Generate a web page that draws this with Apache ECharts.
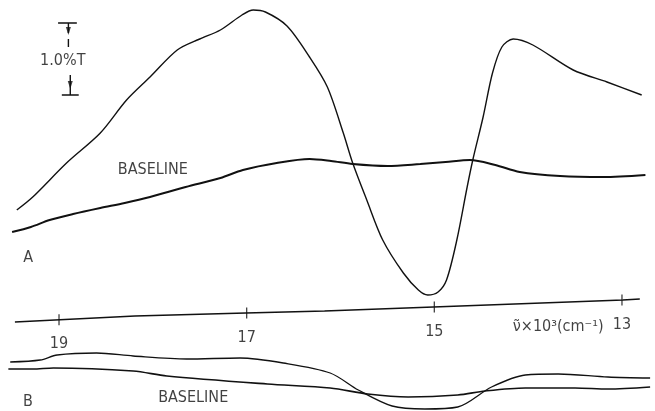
<!DOCTYPE html>
<html><head><meta charset="utf-8">
<script src="https://cdn.jsdelivr.net/npm/echarts@6/dist/echarts.min.js"></script>
<style>html,body{margin:0;padding:0;background:#fff}#c{width:655px;height:411px}</style>
</head><body><div id="c"></div>
<script>
// wavenumber (x10^3 cm^-1) vs. transmittance (arbitrary units, 72 units = 1.0 %T)
const spectrumA = [[19.45,201],[19.28,214],[18.92,248],[18.56,278],[18.28,311],[18.03,334],[17.74,361],[17.50,372],[17.28,381],[17.05,396],[16.93,401],[16.80,399],[16.57,385],[16.33,354],[16.14,324],[15.97,278],[15.87,248],[15.72,211],[15.55,171],[15.33,138],[15.17,121],[15.07,116],[14.96,119],[14.87,131],[14.76,171],[14.65,224],[14.59,251],[14.48,294],[14.38,338],[14.28,364],[14.16,372],[13.95,366],[13.52,341],[13.16,329],[12.79,316]];
const baselineA = [[19.50,179],[19.30,184],[19.10,191],[18.85,197],[18.56,203],[18.30,208],[18.03,214],[17.65,224],[17.28,233],[17.04,241],[16.68,248],[16.33,252],[16.10,250],[15.87,247],[15.50,245],[15.15,247],[14.88,249],[14.62,251],[14.35,246],[14.09,239],[13.66,235],[13.20,234],[12.75,236]];
const spectrumB = [[19.52,49],[19.20,51],[19.02,56],[18.60,58],[18.21,55],[17.64,52],[17.07,53],[16.61,48],[16.11,38],[15.81,21],[15.45,5],[15.10,2],[14.75,4],[14.39,24],[14.03,36],[13.68,37],[13.15,34],[12.70,33]];
const baselineB = [[19.54,42],[19.28,42],[19.06,43],[18.21,40],[17.85,35],[16.78,27],[16.11,23],[15.71,17],[15.28,14],[14.75,16],[14.46,20],[14.03,23],[13.50,23],[13.15,22],[12.70,24]];
const axisLine = [[19.47,89],[18.19,95],[17.01,98],[16.17,100],[15.01,104],[12.99,111],[12.81,112]];
const tickValues = [19,17,15,13];
const tickLabels = ['19','17','15','13'];
const scaleBar = [[19.01,388],[18.81,388],null,[18.90,388],[18.90,378],null,[18.90,372],[18.90,364],null,[18.88,336],[18.88,316],null,[18.97,316],[18.79,316]];
const scaleArrows = [[18.90,380],[18.88,326]];
const annotations = [
  {pos:[19.33,153], text:'A'},
  {pos:[19.33,9], text:'B'},
  {pos:[18.00,241], text:'BASELINE'},
  {pos:[17.57,13], text:'BASELINE'},
  {pos:[18.96,350], text:'1.0%T'},
  {pos:[13.68,84], text:'ν̃×10³(cm⁻¹)'}
];

function axisYAt(v){
  for (let i=0;i<axisLine.length-1;i++){
    const a=axisLine[i], b=axisLine[i+1];
    if ((v<=a[0] && v>=b[0])) { const t=(a[0]-v)/(a[0]-b[0]); return a[1]+t*(b[1]-a[1]); }
  }
  return axisLine[axisLine.length-1][1];
}

const ink = '#111';
const font = 'DejaVu Sans Condensed, DejaVu Sans, sans-serif';
const lineS = (name, data, w, smooth) => ({
  name, type:'line', data, showSymbol:false, smooth: smooth, silent:true,
  lineStyle:{color:ink, width:w}, animation:false, connectNulls:false
});

const chart = echarts.init(document.getElementById('c'), null, {renderer:'canvas'});
chart.setOption({
  backgroundColor:'#fff',
  animation:false,
  grid:{left:0,right:0,top:0,bottom:0},
  xAxis:{type:'value', min:12.648, max:19.629, inverse:true, show:false},
  yAxis:{type:'value', min:0, max:411, show:false},
  series:[
    lineS('A', spectrumA, 1.4, 0.3),
    lineS('A baseline', baselineA, 2, 0.3),
    lineS('B', spectrumB, 1.3, 0.3),
    lineS('B baseline', baselineB, 1.6, 0.3),
    lineS('axis', axisLine, 1.4, false),
    lineS('scale', scaleBar, 1.4, false),
    {type:'scatter', data: scaleArrows, symbol:'triangle', symbolRotate:180, symbolSize:[5,8], itemStyle:{color:ink}, silent:true},
    {type:'scatter', data: tickValues.map((t,i)=>({value:[t, axisYAt(t)], name:tickLabels[i]})),
      symbol:'rect', symbolSize:[1.3,11], itemStyle:{color:ink}, silent:true,
      label:{show:true, position:'bottom', distance:11, formatter:p=>p.name, color:ink, fontSize:16, fontFamily:font}},
    {type:'scatter', data: annotations.map(a=>({value:a.pos, name:a.text})), symbolSize:0, silent:true,
      label:{show:true, position:'inside', formatter:p=>p.name, color:ink, fontSize:16, fontFamily:font}}
  ]
});
</script></body></html>
